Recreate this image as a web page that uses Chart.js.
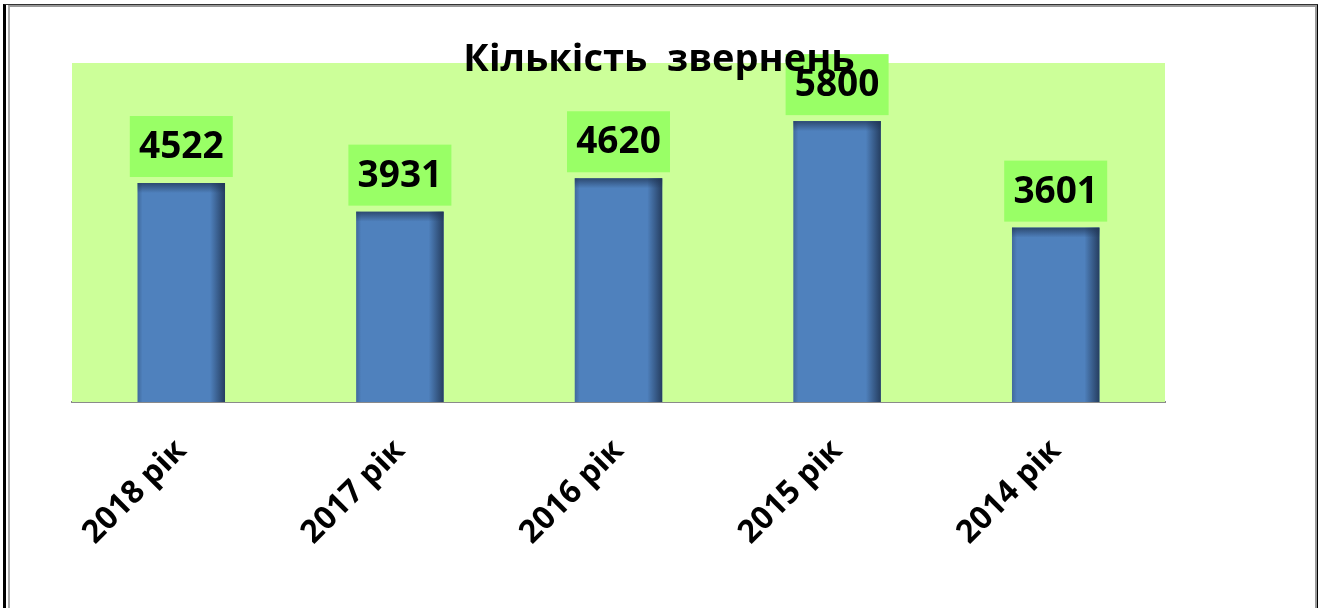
<!DOCTYPE html>
<html>
<head>
<meta charset="utf-8">
<script src="https://cdn.jsdelivr.net/npm/chart.js@4/dist/chart.umd.min.js"></script>
<style>
  html, body { margin: 0; padding: 0; background: #fff; }
  #wrap { position: relative; width: 1318px; height: 608px; overflow: hidden; }
  #frame { position: absolute; left: 3px; top: 4px; width: 1311px; height: 620px;
           border-left: 3px solid #000; border-top: 1px solid #333; border-right: 2px solid #000; }
  #frame2 { position: absolute; left: 8px; top: 5px; width: 1305px; height: 620px;
            border-left: 2px solid #aaa; border-top: 2px solid #999; border-right: 2px solid #999; }
  canvas { position: absolute; left: 0; top: 0; }
</style>
</head>
<body>
<div id="wrap">
  <canvas id="zvern" width="1318" height="608"></canvas>
  <div id="frame"></div>
  <div id="frame2"></div>
</div>
<script>
var years = ['2018 рік', '2017 рік', '2016 рік', '2015 рік', '2014 рік'];
var counts = [4522, 3931, 4620, 5800, 3601];
var chartTitle = 'Кількість  звернень';

var FONT = "'Open Sans', 'DejaVu Sans', sans-serif";

// light green fill behind the bars
var plotBg = {
  id: 'plotBg',
  beforeDatasetsDraw: function(chart){
    var a = chart.chartArea, ctx = chart.ctx;
    ctx.save();
    ctx.fillStyle = '#CCFF99';
    ctx.fillRect(a.left, a.top, a.right - a.left, a.bottom - a.top);
    ctx.restore();
  }
};

// darker edges on each bar, then the value boxes on top
var barDecor = {
  id: 'barDecor',
  afterDatasetsDraw: function(chart){
    var ctx = chart.ctx;
    var meta = chart.getDatasetMeta(0);
    ctx.save();
    meta.data.forEach(function(bar, i){
      var l = bar.x - bar.width / 2, r = bar.x + bar.width / 2;
      var top = bar.y, bot = bar.base;

      var g = ctx.createLinearGradient(r - 15, 0, r, 0);
      g.addColorStop(0, 'rgba(30,50,80,0)');
      g.addColorStop(1, 'rgba(30,50,80,0.85)');
      ctx.fillStyle = g;
      ctx.fillRect(r - 15, top, 15, bot - top);

      var g2 = ctx.createLinearGradient(0, top, 0, top + 10);
      g2.addColorStop(0, 'rgba(30,50,80,0.7)');
      g2.addColorStop(1, 'rgba(30,50,80,0)');
      ctx.fillStyle = g2;
      ctx.fillRect(l, top, r - l, 10);

      var g3 = ctx.createLinearGradient(l, 0, l + 5, 0);
      g3.addColorStop(0, 'rgba(30,50,80,0.3)');
      g3.addColorStop(1, 'rgba(30,50,80,0)');
      ctx.fillStyle = g3;
      ctx.fillRect(l, top, 5, bot - top);

      // value label
      var bw = 103, bh = 61;
      var by = top - 6 - bh;
      ctx.fillStyle = '#99FF66';
      ctx.fillRect(bar.x - bw / 2, by, bw, bh);
      ctx.fillStyle = '#000';
      ctx.font = 'bold 37px ' + FONT;
      ctx.textAlign = 'center';
      ctx.textBaseline = 'middle';
      ctx.fillText(String(counts[i]), bar.x, by + bh / 2 + 1);
    });
    ctx.restore();
  }
};

// title is painted last so it sits over the plot area
var titleOver = {
  id: 'titleOver',
  afterDraw: function(chart){
    var ctx = chart.ctx;
    ctx.save();
    ctx.fillStyle = '#000';
    ctx.font = 'bold 38px ' + FONT;
    ctx.textAlign = 'center';
    ctx.textBaseline = 'alphabetic';
    ctx.fillText(chartTitle, 659, 71);
    ctx.restore();
  }
};

new Chart(document.getElementById('zvern'), {
  type: 'bar',
  data: {
    labels: years,
    datasets: [{
      data: counts,
      backgroundColor: '#4F81BD',
      borderWidth: 0,
      barPercentage: 0.4,
      categoryPercentage: 1
    }]
  },
  options: {
    responsive: false,
    animation: false,
    layout: { padding: { left: 72, right: 153, top: 63, bottom: 0 } },
    plugins: {
      legend: { display: false },
      tooltip: { enabled: false },
      title: { display: false }
    },
    scales: {
      x: {
        grid: { display: false, drawTicks: false },
        border: { display: true, color: '#8a8a8a', width: 2 },
        ticks: {
          color: '#000',
          font: { family: FONT, weight: 'bold', size: 32 },
          minRotation: 45,
          maxRotation: 45,
          padding: 30
        },
        afterFit: function(scale){ scale.height = 206; }
      },
      y: {
        display: false,
        min: 0,
        max: 7000
      }
    }
  },
  plugins: [plotBg, barDecor, titleOver]
});
</script>
</body>
</html>
